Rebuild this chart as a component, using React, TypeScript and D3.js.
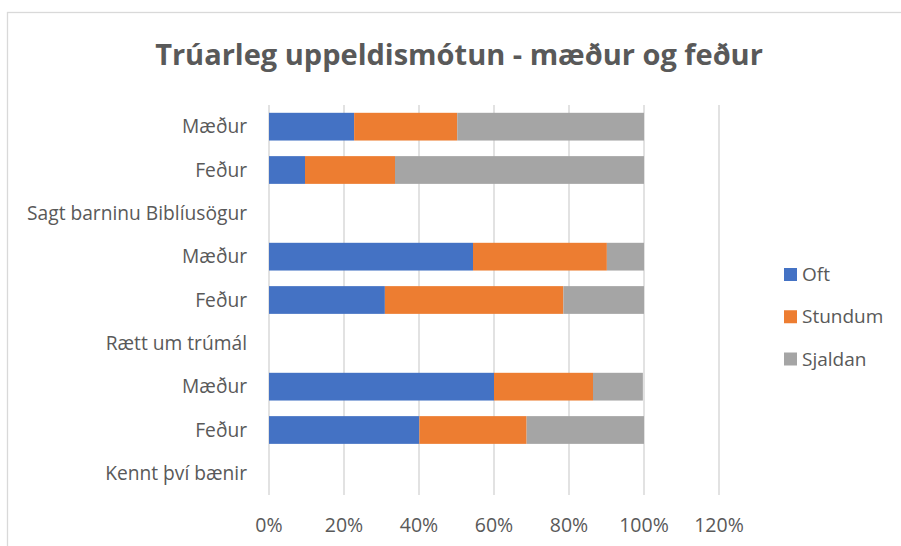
import React from "react";
import * as d3 from "d3";

const categories = [
  "Mæður",
  "Feður",
  "Sagt barninu Biblíusögur",
  "Mæður",
  "Feður",
  "Rætt um trúmál",
  "Mæður",
  "Feður",
  "Kennt því bænir",
];
const seriesNames = ["Oft", "Stundum", "Sjaldan"];
const oft = [22.7, 9.6, null, 54.4, 30.9, null, 60.0, 40.1, null];
const stundum = [27.5, 24.0, null, 35.7, 47.6, null, 26.4, 28.6, null];
const sjaldan = [49.8, 66.4, null, 9.9, 21.5, null, 13.3, 31.3, null];
const colors = ["#4472C4", "#ED7D31", "#A5A5A5"];
const ticks = [0, 20, 40, 60, 80, 100, 120];
const title = "Trúarleg uppeldismótun - mæður og feður";

const W = 901;
const H = 546;
const FONT = "'Open Sans', 'Noto Sans', sans-serif";
const TEXT = "#595959";
const GRID = "#d9d9d9";

export default function App() {
  const x = d3.scaleLinear().domain([0, 120]).range([269, 719]);
  const y = d3
    .scaleBand<number>()
    .domain(d3.range(categories.length))
    .range([105, 495])
    .paddingInner(0.36)
    .paddingOuter(0.18);
  const band = d3
    .scaleBand<number>()
    .domain(d3.range(categories.length))
    .range([105, 495]);

  const rows = categories.map((c, i) => ({ c, i, vals: [oft[i], stundum[i], sjaldan[i]] }));
  const stacked = rows.map((r) => {
    let acc = 0;
    return r.vals.map((v, k) => {
      const s = acc;
      acc += v ?? 0;
      return { k, x0: s, x1: acc, has: v != null };
    });
  });

  const legendY = d3.scalePoint<number>().domain([0, 1, 2]).range([274.5, 359]);

  return (
    <svg
      width={W}
      height={H}
      style={{ position: "absolute", left: 0, top: 0, background: "#fff" }}
    >
      <rect x={0} y={0} width={W} height={H} fill="#fff" />
      <rect x={7.5} y={12.5} width={W + 20} height={H + 20} fill="#fff" stroke={GRID} strokeWidth={1.3} />
      <text
        x={459}
        y={65}
        textAnchor="middle"
        fontFamily={FONT}
        fontWeight={700}
        fontSize={29}
        fill={TEXT}
      >
        {title}
      </text>
      {ticks.map((t) => (
        <line
          key={"g" + t}
          x1={x(t)}
          x2={x(t)}
          y1={105}
          y2={495}
          stroke={GRID}
          strokeWidth={1.5}
        />
      ))}
      {stacked.map((segs, i) =>
        segs.map((s) =>
          s.has ? (
            <rect
              key={i + "-" + s.k}
              x={x(s.x0)}
              width={x(s.x1) - x(s.x0)}
              y={y(i)}
              height={y.bandwidth()}
              fill={colors[s.k]}
            />
          ) : null
        )
      )}
      {categories.map((c, i) => (
        <text
          key={"c" + i}
          x={247}
          y={(band(i) ?? 0) + band.bandwidth() / 2}
          dy="0.35em"
          textAnchor="end"
          fontFamily={FONT}
          fontSize={19.2}
          fill={TEXT}
        >
          {c}
        </text>
      ))}
      {ticks.map((t) => (
        <text
          key={"t" + t}
          x={x(t)}
          y={532}
          textAnchor="middle"
          fontFamily={FONT}
          fontSize={19.5}
          fill={TEXT}
        >
          {t + "%"}
        </text>
      ))}
      {seriesNames.map((n, k) => (
        <g key={"l" + n}>
          <rect
            x={784}
            y={(legendY(k) ?? 0) - 6.5}
            width={13}
            height={13}
            fill={colors[k]}
          />
          <text
            x={802}
            y={legendY(k) ?? 0}
            dy="0.35em"
            fontFamily={FONT}
            fontSize={19}
            fill={TEXT}
          >
            {n}
          </text>
        </g>
      ))}
    </svg>
  );
}
